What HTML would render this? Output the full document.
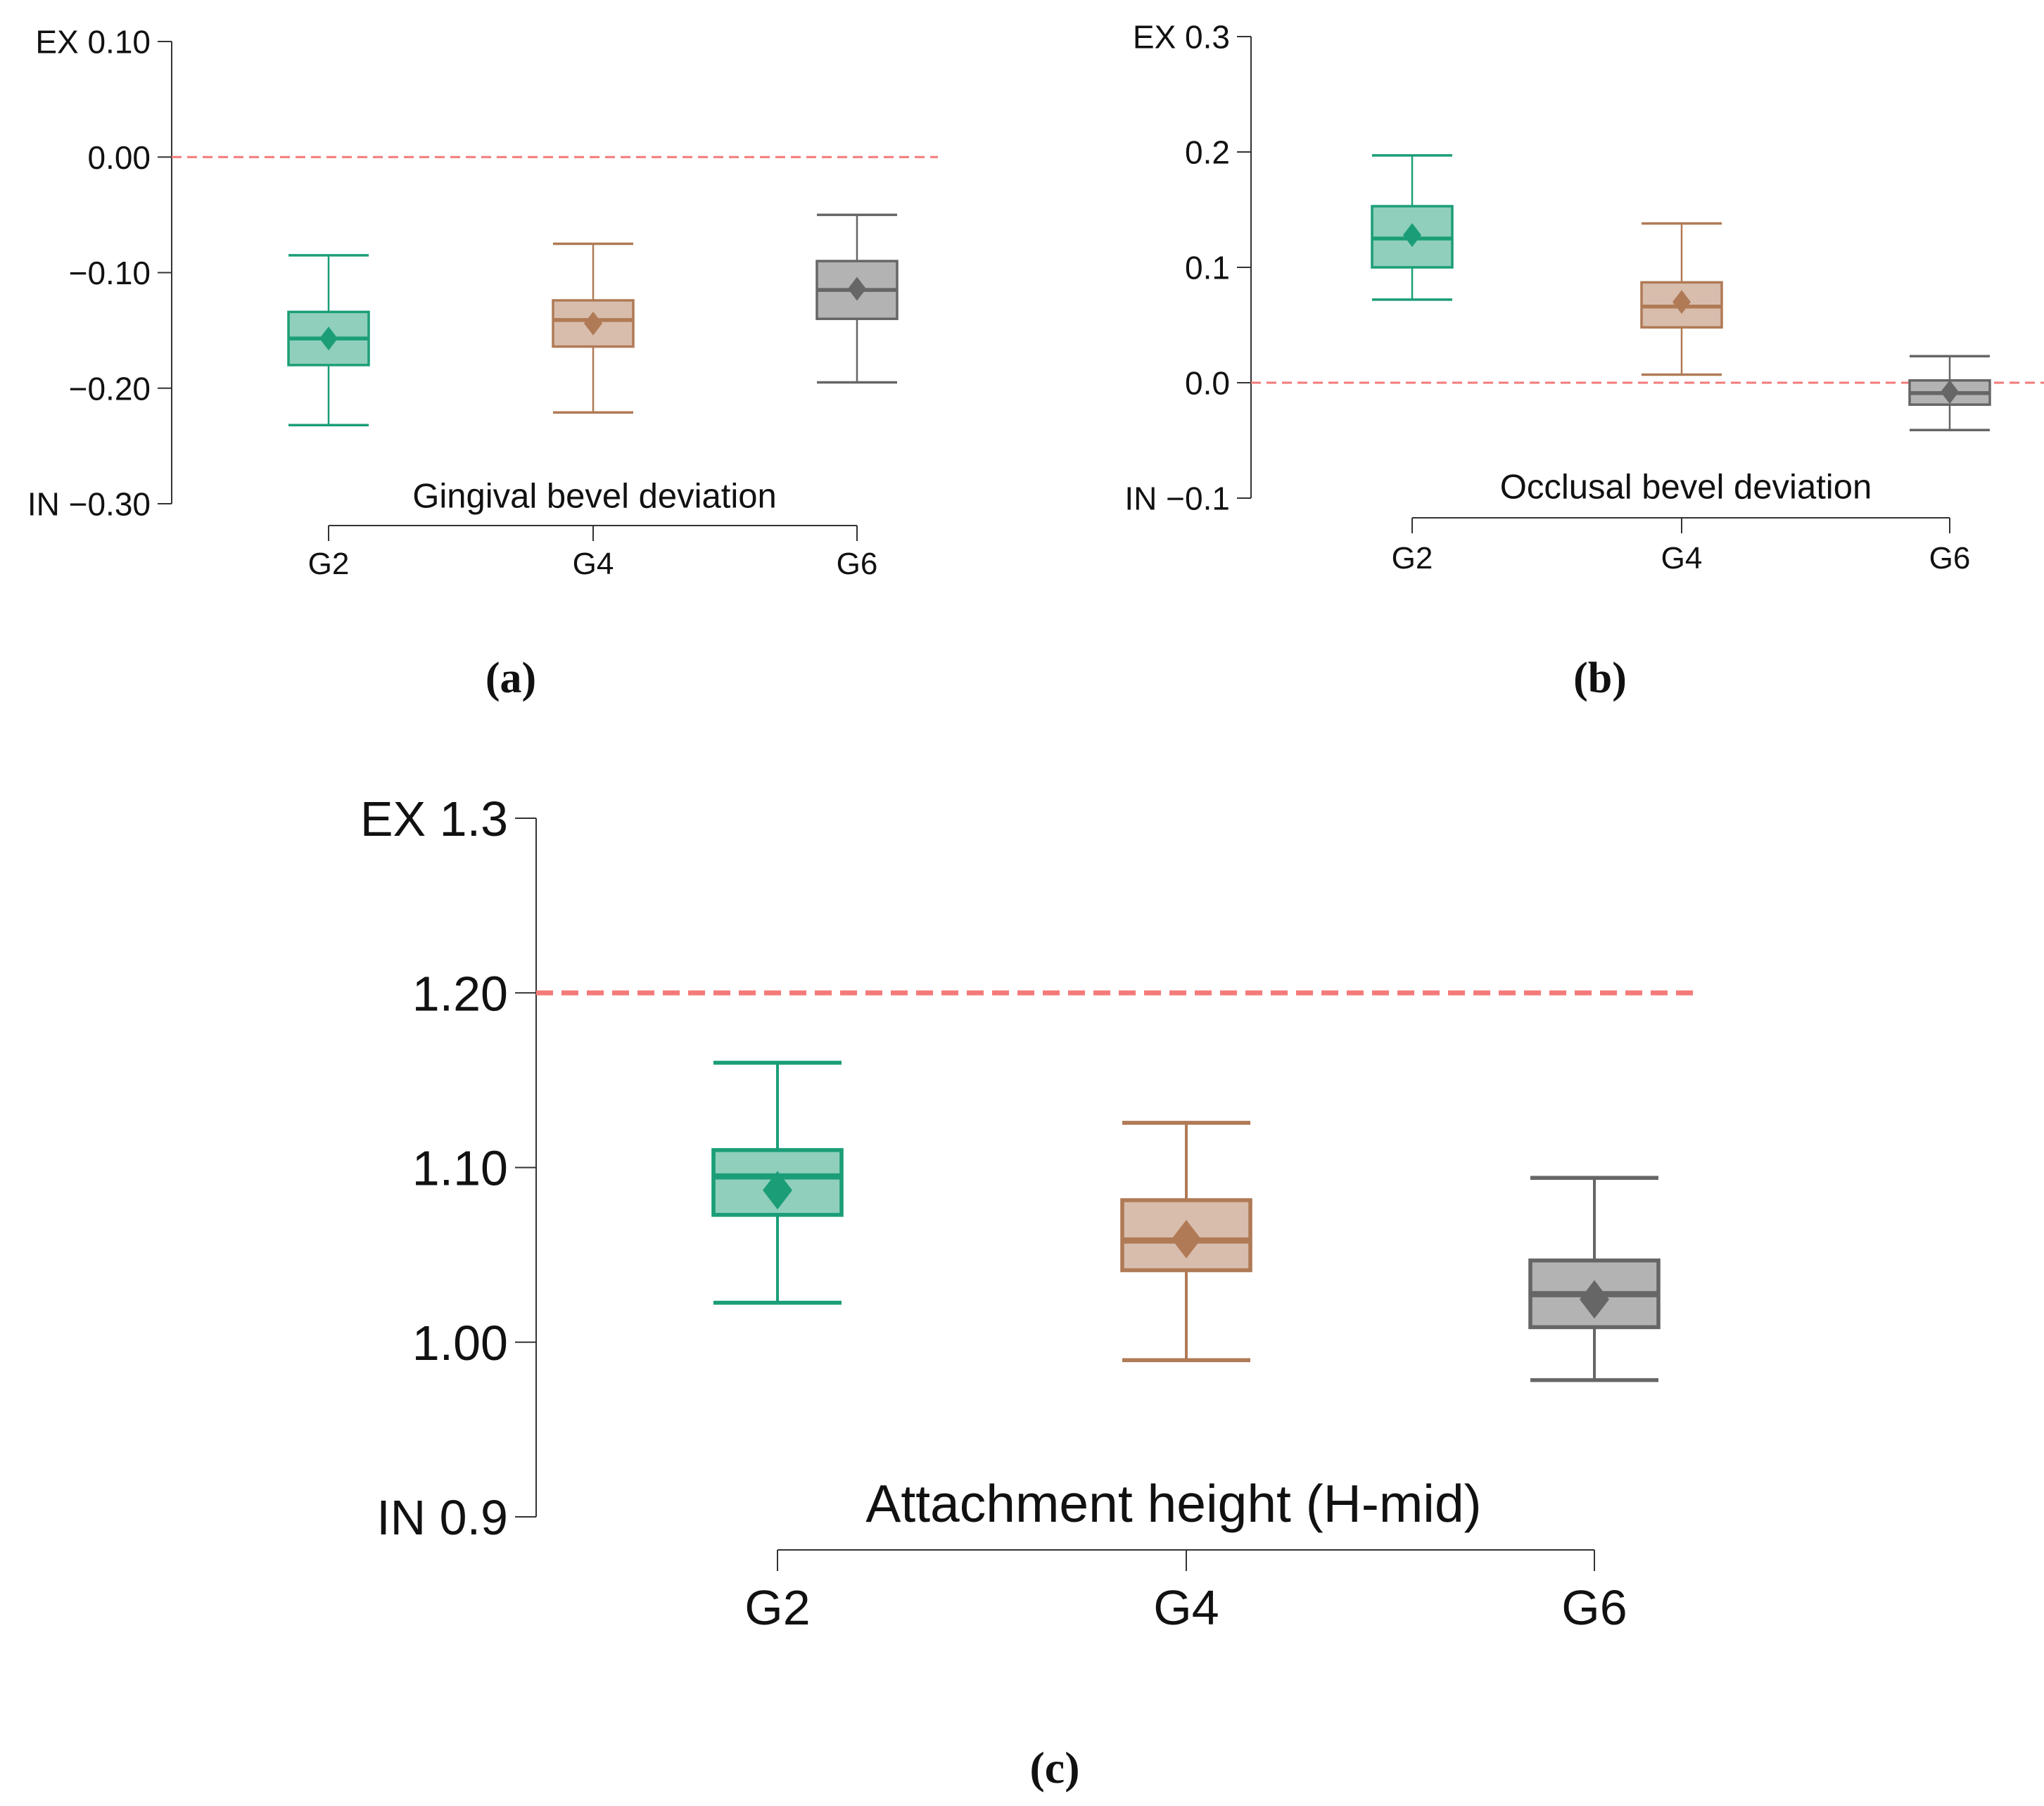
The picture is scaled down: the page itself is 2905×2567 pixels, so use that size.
<!DOCTYPE html>
<html><head><meta charset="utf-8"><style>
body{margin:0;background:#fff}
svg{display:block}
text{font-family:"Liberation Sans",sans-serif;fill:#111}
.cap{font-family:"Liberation Serif",serif;font-weight:bold}
</style></head><body>
<svg id="s" width="2905" height="2567" viewBox="0 0 2905 2567"></svg>
<script>
const categories = ["G2","G4","G6"];
// panel a: whiskerLow, q1, median, q3, whiskerHigh, mean
const aLow = [-0.232,-0.221,-0.195];
const aQ1 = [-0.180,-0.164,-0.140];
const aMed = [-0.157,-0.141,-0.115];
const aQ3 = [-0.134,-0.124,-0.090];
const aHigh = [-0.085,-0.075,-0.050];
const aMean = [-0.157,-0.144,-0.114];
const aTicks = ["EX 0.10","0.00","\u22120.10","\u22120.20","IN \u22120.30"];
const aTickVals = [0.10,0.00,-0.10,-0.20,-0.30];
const aRef = 0.0;
// panel b
const bLow = [0.072,0.007,-0.041];
const bQ1 = [0.100,0.048,-0.019];
const bMed = [0.125,0.066,-0.009];
const bQ3 = [0.153,0.087,0.002];
const bHigh = [0.197,0.138,0.023];
const bMean = [0.128,0.070,-0.008];
const bTicks = ["EX 0.3","0.2","0.1","0.0","IN \u22120.1"];
const bTickVals = [0.3,0.2,0.1,0.0,-0.1];
const bRef = 0.0;
// panel c
const cLow = [1.0226,0.9897,0.9783];
const cQ1 = [1.0729,1.0412,1.0086];
const cMed = [1.0949,1.0582,1.0275];
const cQ3 = [1.110,1.0813,1.0468];
const cHigh = [1.160,1.1256,1.0941];
const cMean = [1.087,1.059,1.0245];
const cTicks = ["EX 1.3","1.20","1.10","1.00","IN 0.9"];
const cTickVals = [1.3,1.2,1.1,1.0,0.9];
const cRef = 1.2;

const strokes = ["#1b9e77","#b07a56","#666666"];
const fills = ["#8fcfbb","#d8bdad","#b3b3b3"];
const NS = "http://www.w3.org/2000/svg";
const svg = document.getElementById('s');
function mk(tag, attrs, parent, txt){
  const e = document.createElementNS(NS, tag);
  for (const k in attrs) e.setAttribute(k, attrs[k]);
  if (txt !== undefined) e.textContent = txt;
  parent.appendChild(e);
  return e;
}
function panel(id, cfg, low, q1, med, q3, high, mean, ticks, tickVals, ref){
  const g = mk('g', {}, svg);
  
  
  const vmax = tickVals[0], vmin = tickVals[tickVals.length-1];
  const y = v => cfg.yTop + (vmax - v) / (vmax - vmin) * (cfg.yBot - cfg.yTop);
  const x = i => cfg.xs[i];
  const ax = mk('line', {x1:cfg.ax, x2:cfg.ax, y1:cfg.yTop, y2:cfg.yBot, stroke:'#333', 'stroke-width':2}, g);
  
  
  tickVals.forEach((v, k) => {
    mk('line', {x1:cfg.ax - cfg.tl, x2:cfg.ax, y1:y(v), y2:y(v), stroke:'#333', 'stroke-width':2}, g);
    const t = mk('text', {x:cfg.ax - cfg.tl - 10, y:y(v) + cfg.fs*0.36, 'text-anchor':'end', 'font-size':cfg.fs}, g, ticks[k]);
    
    
  });
  const rl = mk('line', {x1:cfg.ax, x2:cfg.refEnd, y1:y(ref), y2:y(ref), stroke:'#f47a7a', 'stroke-width':cfg.refW, 'stroke-dasharray':cfg.dash}, g);
  
  
  const xa = mk('line', {x1:x(0), x2:x(2), y1:cfg.xAxY, y2:cfg.xAxY, stroke:'#333', 'stroke-width':2}, g);
  
  
  categories.forEach((c, i) => {
    mk('line', {x1:x(i), x2:x(i), y1:cfg.xAxY, y2:cfg.xAxY + cfg.xtl, stroke:'#333', 'stroke-width':2}, g);
    const t = mk('text', {x:x(i), y:cfg.labY + cfg.lfs*0.36, 'text-anchor':'middle', 'font-size':cfg.lfs}, g, c);
    
    
    const b = mk('g', {}, g);
    
    
    const hw = cfg.hw, sw = cfg.sw, xi = x(i);
    mk('line', {x1:xi, x2:xi, y1:y(high[i]), y2:y(q3[i]), stroke:strokes[i], 'stroke-width':sw}, b);
    mk('line', {x1:xi, x2:xi, y1:y(q1[i]), y2:y(low[i]), stroke:strokes[i], 'stroke-width':sw}, b);
    mk('line', {x1:xi-hw, x2:xi+hw, y1:y(high[i]), y2:y(high[i]), stroke:strokes[i], 'stroke-width':sw*1.4}, b);
    mk('line', {x1:xi-hw, x2:xi+hw, y1:y(low[i]), y2:y(low[i]), stroke:strokes[i], 'stroke-width':sw*1.4}, b);
    mk('rect', {x:xi-hw, y:y(q3[i]), width:2*hw, height:y(q1[i])-y(q3[i]), fill:fills[i], stroke:strokes[i], 'stroke-width':sw*1.4}, b);
    mk('line', {x1:xi-hw, x2:xi+hw, y1:y(med[i]), y2:y(med[i]), stroke:strokes[i], 'stroke-width':sw*2.2}, b);
    const d = cfg.dm, my = y(mean[i]);
    mk('polygon', {points:`${xi},${my-d*1.3} ${xi+d},${my} ${xi},${my+d*1.3} ${xi-d},${my}`, fill:strokes[i]}, b);
  });
  const tt = mk('text', {x:cfg.titleX, y:cfg.titleY + cfg.tfs*0.36, 'text-anchor':'middle', 'font-size':cfg.tfs}, g, cfg.title);
  
  
  const cp = mk('text', {x:cfg.capX, y:cfg.capY + cfg.cfs*0.34, 'text-anchor':'middle', 'font-size':cfg.cfs, class:'cap'}, g, '(' + id + ')');
  
  
}
panel('a', {ax:244, yTop:59, yBot:716, xs:[467,843,1218], tl:20, fs:46, lfs:44, hw:57, sw:2.5, dm:13,
  refEnd:1333, refW:3, dash:'14 8', xAxY:747, xtl:22, labY:800, title:'Gingival bevel deviation', titleX:845, titleY:704, tfs:49,
  capX:726, capY:963, cfs:62}, aLow,aQ1,aMed,aQ3,aHigh,aMean,aTicks,aTickVals,aRef);
panel('b', {ax:1778, yTop:52, yBot:708, xs:[2007,2390,2771], tl:20, fs:46, lfs:44, hw:57, sw:2.5, dm:13,
  refEnd:2905, refW:3, dash:'14 8', xAxY:736, xtl:22, labY:792, title:'Occlusal bevel deviation', titleX:2396, titleY:691, tfs:49,
  capX:2274, capY:963, cfs:62}, bLow,bQ1,bMed,bQ3,bHigh,bMean,bTicks,bTickVals,bRef);
panel('c', {ax:762, yTop:1163, yBot:2156, xs:[1105,1686,2266], tl:30, fs:70, lfs:70, hw:91, sw:4, dm:21,
  refEnd:2408, refW:7, dash:'24 12', xAxY:2203, xtl:30, labY:2284, title:'Attachment height (H-mid)', titleX:1668, titleY:2136, tfs:75,
  capX:1499, capY:2512, cfs:64}, cLow,cQ1,cMed,cQ3,cHigh,cMean,cTicks,cTickVals,cRef);
</script>
</body></html>
